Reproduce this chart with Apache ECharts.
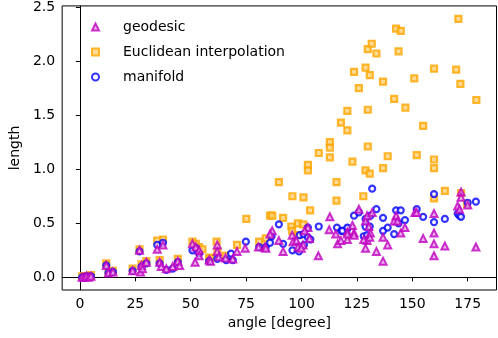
<!DOCTYPE html>
<html>
<head>
  <meta charset="utf-8">
  <title>length vs angle</title>
  <script src="https://fastly.jsdelivr.net/npm/echarts@6/dist/echarts.min.js"></script>
</head>
<body style="margin:0;background:#fff">
<div id="main" style="width:498px;height:338px;"></div>
<script type="text/javascript">
  // [angle, length]
  const geodesic = [
    [1,0.0],[2,0.0],[3,0.01],[4,0.0],[5,0.01],
    [11.9,0.11],[12.9,0.04],[14.9,0.05],
    [23.8,0.06],[26.9,0.25],[27.3,0.05],[27.8,0.11],[28.2,0.08],[30,0.14],
    [34.9,0.26],[37.5,0.30],[36,0.14],[36.7,0.10],[39,0.08],[41.9,0.10],[44.2,0.15],[45,0.11],
    [50.8,0.31],[52.3,0.28],[53.8,0.25],[52,0.14],[58.3,0.16],[53.8,0.2],
    [62,0.30],[62,0.24],[58.9,0.15],[65.7,0.18],[69,0.17],[62.7,0.19],[70.9,0.24],[74.6,0.27],
    [80.6,0.28],[83.5,0.28],[83.9,0.27],
    [86.8,0.43],[85.8,0.40],[89.8,0.34],[91.7,0.24],[95.8,0.39],[96.2,0.33],[97.7,0.34],[98.4,0.28],
    [100.7,0.30],[99.9,0.27],[102.9,0.46],[101.4,0.43],[103.6,0.36],[107.6,0.20],
    [112.8,0.56],[112.5,0.44],[115.5,0.40],[116.3,0.31],[117.8,0.34],[120.7,0.35],[120.7,0.42],
    [125.9,0.63],[128.9,0.52],[129.6,0.57],[131.9,0.60],[130.4,0.47],[131.1,0.41],[129.6,0.34],
    [128.1,0.35],[130.8,0.37],[123,0.48],[123.7,0.41],[128.9,0.27],[120.7,0.40],[123.7,0.39],
    [133.8,0.24],[136.8,0.15],[136.8,0.37],[138.9,0.30],
    [142.7,0.57],[141.8,0.52],[143.3,0.52],[144.8,0.41],[146.7,0.46],
    [151.2,0.60],[152,0.60],[154.9,0.36],
    [159.8,0.59],[159.8,0.41],[159.8,0.31],[159.8,0.20],[164.7,0.29],
    [172,0.79],[172,0.74],[170.5,0.66],[171.3,0.63],[175,0.67],[178.7,0.28]
  ];
  const euclidean = [
    [1,0.01],[2,0.01],[3,0.01],[5,0.02],[11.9,0.13],[12.9,0.05],[14.9,0.06],
    [23.8,0.08],[26.9,0.26],[27.8,0.12],[30,0.15],[34.9,0.34],[37.5,0.35],[36,0.16],[44.2,0.17],
    [50.8,0.33],[52.3,0.31],[53.8,0.28],[58.3,0.18],[55.3,0.26],
    [61.7,0.33],[70.9,0.30],[62,0.24],[58.9,0.18],[65.7,0.20],[75.1,0.54],[80.9,0.33],[83.9,0.36],
    [85.8,0.57],[86.8,0.57],[91.7,0.55],[95.4,0.47],[98.4,0.50],[100.7,0.49],[95.8,0.43],[98.7,0.39],
    [89.8,0.88],[95.9,0.75],[100.9,0.74],[103.9,0.62],[102.9,1.04],[102.9,0.99],[107.8,1.15],
    [112.8,1.11],[115.8,0.88],[115.8,0.71],
    [112.8,1.25],[112.8,1.20],[117.8,1.43],[120.7,1.36],[120.7,1.54],[123,1.07],[123.7,1.90],
    [125.9,1.75],[127.9,0.75],[128.9,0.99],[128.9,1.94],[129.9,2.11],[129.9,1.55],[129.9,1.21],
    [130.8,0.96],[130.8,1.87],[131.7,2.16],[133.8,2.07],[136.8,1.01],[136.8,1.81],[138.9,1.12],
    [141.8,1.65],[142.7,2.30],[143.8,2.09],[144.8,2.28],[146.9,1.57],[150.9,1.84],[152,1.13],
    [154.9,1.40],[159.8,1.93],[159.8,1.09],[159.8,1.01],[159.8,0.73],[164.7,0.80],[169.8,1.92],
    [170.8,2.39],[171.7,1.79],[172,0.78],[174.7,0.68],[178.9,1.64]
  ];
  const manifold = [
    [1,0.0],[2,0.0],[3,0.01],[5,0.01],[11.9,0.11],[12.9,0.04],[14.9,0.05],
    [23.8,0.06],[26.9,0.24],[27.8,0.1],[30,0.13],[34.9,0.30],[37.5,0.32],[36,0.13],[39,0.07],
    [41.9,0.08],[44.2,0.14],[50.8,0.25],[52.3,0.27],[53.8,0.22],[58.3,0.15],
    [62,0.17],[66,0.16],[69,0.16],[68.2,0.22],[74.9,0.33],[80.9,0.28],[83.9,0.28],[85.8,0.32],
    [86.5,0.38],[89.8,0.49],[91.7,0.31],[95.9,0.25],[98.9,0.24],[99.2,0.39],[100.9,0.40],
    [101.1,0.30],[102.9,0.46],[102.9,0.37],[104,0.35],[107.8,0.47],
    [116,0.46],[118,0.43],[120.7,0.45],[118.5,0.43],[120.7,0.46],[123.7,0.57],[125.9,0.60],
    [128.9,0.54],[128.9,0.47],[130.8,0.47],[131.1,0.57],[131.9,0.82],[133.8,0.63],[136.8,0.55],
    [136.8,0.43],[138.9,0.46],[141.8,0.40],[143.8,0.50],[142.7,0.62],[144.8,0.62],[146.7,0.53],
    [128.1,0.38],[129.6,0.39],[152,0.63],[154.9,0.56],[159.8,0.77],[159.8,0.51],[164.7,0.54],
    [170.5,0.59],[171.3,0.57],[172,0.56],[175,0.69],[178.7,0.70]
  ];
  const xTicks = [0, 25, 50, 75, 100, 125, 150, 175];
  const yTicks = [0, 0.5, 1.0, 1.5, 2.0, 2.5];

  var myChart = echarts.init(document.getElementById('main'));
  var font = 'DejaVu Sans';
  var option = {
    animation: false,
    textStyle: { fontFamily: font },
    grid: {
      left: 58, right: 1.5, top: 5, bottom: 48,
      show: true, borderColor: '#000', borderWidth: 1
    },
    legend: {
      data: ['geodesic', 'Euclidean interpolation', 'manifold'],
      orient: 'vertical',
      left: 86, top: 15,
      itemWidth: 7, itemHeight: 7,
      itemGap: 11,
      textStyle: { fontSize: 14, color: '#000', fontFamily: font, padding: [0, 0, 0, 19] }
    },
    xAxis: {
      type: 'value',
      min: -8, max: 188,
      name: 'angle [degree]',
      nameLocation: 'middle',
      nameGap: 24,
      nameTextStyle: { fontSize: 14, color: '#000', fontFamily: font },
      axisLine: { show: true, lineStyle: { color: '#000' } },
      axisTick: { show: true, customValues: xTicks, length: 4, lineStyle: { color: '#000' } },
      axisLabel: { customValues: xTicks, fontSize: 14, color: '#000', margin: 7 },
      splitLine: { show: false }
    },
    yAxis: {
      type: 'value',
      min: -0.117, max: 2.51,
      name: 'length',
      nameLocation: 'middle',
      nameGap: 40,
      nameTextStyle: { fontSize: 14, color: '#000', fontFamily: font },
      axisLine: { show: true, lineStyle: { color: '#000' } },
      axisTick: { show: true, customValues: yTicks, length: 4, lineStyle: { color: '#000' } },
      axisLabel: {
        customValues: yTicks, fontSize: 14, color: '#000', margin: 7,
        formatter: function (v) { return v.toFixed(1); }
      },
      splitLine: { show: false }
    },
    series: [
      {
        name: 'Euclidean interpolation',
        type: 'scatter',
        symbol: 'rect',
        symbolSize: 6,
        itemStyle: { color: '#ffd27a', borderColor: '#ffa500', borderWidth: 2.2 },
        data: euclidean
      },
      {
        name: 'manifold',
        type: 'scatter',
        symbol: 'circle',
        symbolSize: 6,
        itemStyle: { color: '#ffffff', borderColor: '#0000ff', borderWidth: 2.2 },
        data: manifold
      },
      {
        name: 'geodesic',
        type: 'scatter',
        symbol: 'triangle',
        symbolSize: 7,
        itemStyle: { color: '#e6a0e6', borderColor: '#bf00bf', borderWidth: 2 },
        data: geodesic
      }
    ]
  };
  myChart.setOption(option);
</script>
</body>
</html>
